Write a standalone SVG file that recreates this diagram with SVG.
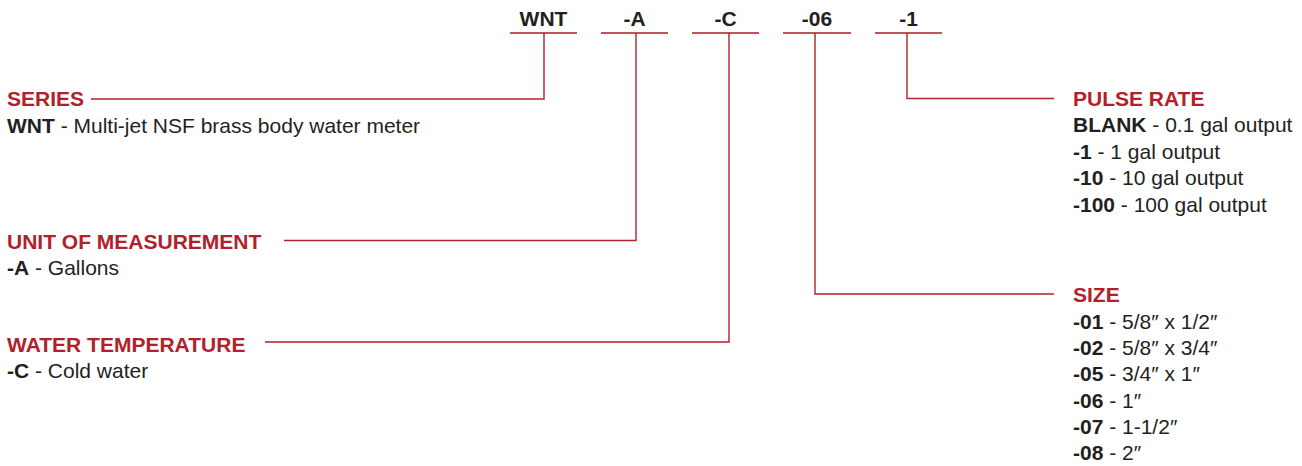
<svg xmlns="http://www.w3.org/2000/svg" width="1302" height="466" viewBox="0 0 1302 466">
<style>
text{font-family:'Liberation Sans',sans-serif;font-size:21px;fill:#231f20}
.h{font-weight:bold;fill:#b3202a}
.b{font-weight:bold}
.code{font-weight:bold;text-anchor:middle}
.u{stroke:#c4525a;stroke-width:2;fill:none}
.c{stroke:#b3202a;stroke-width:1.4;fill:none}
</style>
<rect width="1302" height="466" fill="#ffffff"/>
<g id="code-wnt"><text class="code" x="543.5" y="26">WNT</text><line class="u" x1="510" y1="33" x2="577" y2="33"/></g>
<g id="code-a"><text class="code" x="634.5" y="26">-A</text><line class="u" x1="601" y1="33" x2="668" y2="33"/></g>
<g id="code-c"><text class="code" x="725.5" y="26">-C</text><line class="u" x1="692" y1="33" x2="759" y2="33"/></g>
<g id="code-06"><text class="code" x="817" y="26">-06</text><line class="u" x1="783" y1="33" x2="851" y2="33"/></g>
<g id="code-1"><text class="code" x="908.5" y="26">-1</text><line class="u" x1="875" y1="33" x2="942" y2="33"/></g>
<g id="connectors">
<polyline class="c" points="544,33 544,99 91,99"/>
<polyline class="c" points="636,33 636,240.5 284,240.5"/>
<polyline class="c" points="729,33 729,342 265,342"/>
<polyline class="c" points="815,33 815,294 1054,294"/>
<polyline class="c" points="907,33 907,98.5 1054,98.5"/>
</g>
<g id="series">
<text class="h" x="7" y="106">SERIES</text>
<text x="7" y="133"><tspan class="b">WNT</tspan> - Multi-jet NSF brass body water meter</text>
</g>
<g id="unit">
<text class="h" x="7" y="249">UNIT OF MEASUREMENT</text>
<text x="7" y="275"><tspan class="b">-A</tspan> - Gallons</text>
</g>
<g id="temperature">
<text class="h" x="7" y="352">WATER TEMPERATURE</text>
<text x="7" y="378"><tspan class="b">-C</tspan> - Cold water</text>
</g>
<g id="pulse-rate">
<text class="h" x="1073" y="106">PULSE RATE</text>
<text x="1073" y="132"><tspan class="b">BLANK</tspan> - 0.1 gal output</text>
<text x="1073" y="158.5"><tspan class="b">-1</tspan> - 1 gal output</text>
<text x="1073" y="185"><tspan class="b">-10</tspan> - 10 gal output</text>
<text x="1073" y="211.5"><tspan class="b">-100</tspan> - 100 gal output</text>
</g>
<g id="size">
<text class="h" x="1073" y="302">SIZE</text>
<text x="1073" y="328.5"><tspan class="b">-01</tspan> - 5/8″ x 1/2″</text>
<text x="1073" y="355"><tspan class="b">-02</tspan> - 5/8″ x 3/4″</text>
<text x="1073" y="381"><tspan class="b">-05</tspan> - 3/4″ x 1″</text>
<text x="1073" y="407.5"><tspan class="b">-06</tspan> - 1″</text>
<text x="1073" y="434"><tspan class="b">-07</tspan> - 1-1/2″</text>
<text x="1073" y="460"><tspan class="b">-08</tspan> - 2″</text>
</g>
</svg>
